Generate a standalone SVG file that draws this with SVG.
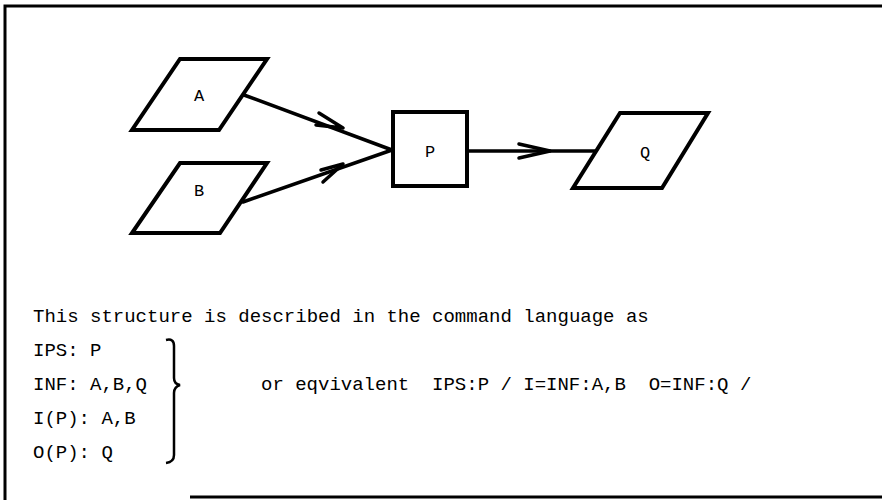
<svg xmlns="http://www.w3.org/2000/svg" width="882" height="500" viewBox="0 0 882 500">
<style>
.shape{fill:#fff;stroke:#000;stroke-width:4;stroke-linejoin:miter}
.edge{fill:none;stroke:#000;stroke-width:3.5;stroke-linecap:round;stroke-linejoin:round}
.lbl{font-family:"Liberation Mono","DejaVu Sans Mono",monospace;font-size:17px;fill:#000;text-anchor:middle}
.txt{font-family:"Liberation Mono","DejaVu Sans Mono",monospace;font-size:19px;fill:#000}
.frame{fill:none;stroke:#000;stroke-width:3}
</style>
<rect width="882" height="500" fill="#fff"/>
<g id="frame">
<path class="frame" d="M5,500 V6 H882"/>
<path class="frame" d="M190,497 H882"/>
</g>
<g id="connectors">
<path class="edge" d="M244,95 L392,150"/>
<path class="edge" d="M319,113 L343,128 L316,125"/>
<path class="edge" d="M243,202 L392,150"/>
<path class="edge" d="M321,170 L343,164 L323,182"/>
<path class="edge" d="M467,151 L598,151"/>
<path class="edge" d="M519,144 L550,151 L519,158"/>
</g>
<g id="node-A">
<polygon class="shape" points="180,59 267,59 219,130 132,130"/>
<text class="lbl" x="199" y="101">A</text>
</g>
<g id="node-B">
<polygon class="shape" points="180,163 267,163 220,233 132,233"/>
<text class="lbl" x="199" y="196">B</text>
</g>
<g id="node-P">
<rect class="shape" x="393" y="112" width="74" height="74"/>
<text class="lbl" x="430" y="157">P</text>
</g>
<g id="node-Q">
<polygon class="shape" points="620,113 708,113 662,188 573,188"/>
<text class="lbl" x="645" y="158">Q</text>
</g>
<g id="description">
<text class="txt" x="33" y="322">This structure is described in the command language as</text>
<text class="txt" x="33" y="356">IPS: P</text>
<text class="txt" x="33" y="390">INF: A,B,Q</text>
<text class="txt" x="33" y="424">I(P): A,B</text>
<text class="txt" x="33" y="458">O(P): Q</text>
<text class="txt" x="261" y="390" xml:space="preserve">or eqvivalent  IPS:P / I=INF:A,B  O=INF:Q /</text>
<path d="M166,340 Q174,338 174,346 L174,378 Q174,384 180,385 Q174,387 174,393 L174,455 Q174,462 166,463" fill="none" stroke="#000" stroke-width="2.5"/>
</g>
</svg>
